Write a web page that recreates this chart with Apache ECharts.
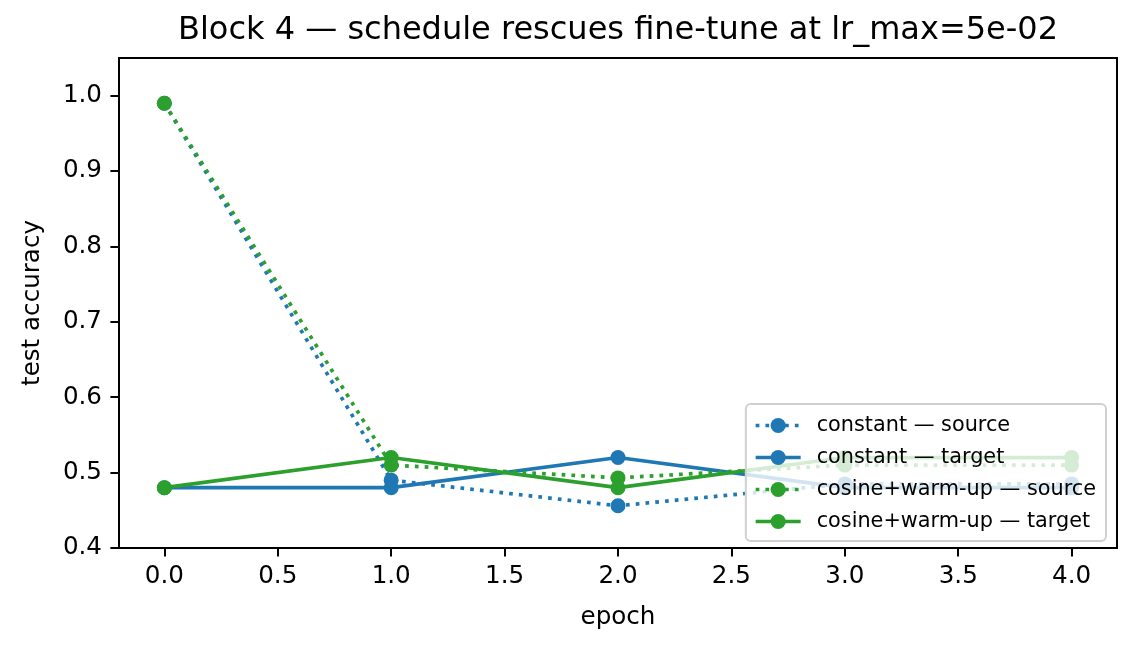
<!DOCTYPE html>
<html>
<head>
<meta charset="utf-8">
<script src="https://cdn.jsdelivr.net/npm/echarts@6/dist/echarts.min.js"></script>
<style>
  html, body { margin: 0; padding: 0; background: #fff; }
  #chart { width: 1135px; height: 651px; }
</style>
</head>
<body>
<div id="chart"></div>
<script>
// data
var epochs = [0, 1, 2, 3, 4];
var constSource = [0.99, 0.49, 0.456, 0.485, 0.485];
var constTarget = [0.48, 0.48, 0.52, 0.48, 0.48];
var cosSource = [0.99, 0.51, 0.493, 0.51, 0.51];
var cosTarget = [0.48, 0.52, 0.48, 0.52, 0.52];

var xTicks = [0, 0.5, 1, 1.5, 2, 2.5, 3, 3.5, 4];
var yTicks = [0.4, 0.5, 0.6, 0.7, 0.8, 0.9, 1.0];

var blue = '#1f77b4';
var green = '#2ca02c';
var font = 'DejaVu Sans';

function pairs(vals) {
    var out = [];
    for (var i = 0; i < epochs.length; i++) {
        out.push([epochs[i], vals[i]]);
    }
    return out;
}

function mkSeries(name, vals, color, dotted) {
    return {
        name: name,
        type: 'line',
        data: pairs(vals),
        symbol: 'circle',
        symbolSize: 15,
        showSymbol: true,
        itemStyle: { color: color },
        lineStyle: {
            color: color,
            width: 3.7,
            type: dotted ? [3.7, 6.1] : 'solid'
        },
        emphasis: { disabled: true },
        animation: false
    };
}

var myChart = echarts.init(document.getElementById('chart'));

var option = {
    backgroundColor: '#fff',
    textStyle: { fontFamily: font },
    title: {
        text: 'Block 4 \u2014 schedule rescues fine-tune at lr_max=5e-02',
        left: 618,
        textAlign: 'center',
        top: 15,
        padding: 0,
        textStyle: { fontFamily: font, fontSize: 32, fontWeight: 'normal', color: '#000' }
    },
    grid: {
        left: 119,
        right: 18,
        top: 58,
        bottom: 103,
        show: true,
        borderColor: '#000',
        borderWidth: 2,
        backgroundColor: 'transparent'
    },
    legend: {
        orient: 'vertical',
        right: 29,
        bottom: 110,
        padding: [11, 10, 9, 8],
        itemWidth: 45,
        itemHeight: 19,
        itemGap: 11,
        backgroundColor: 'rgba(255,255,255,0.8)',
        borderColor: '#d0d0d0',
        borderWidth: 2,
        borderRadius: 5,
        lineStyle: { width: 3.7 },
        textStyle: { fontFamily: font, fontSize: 20.8, color: '#000', padding: [0, 0, 0, 11] },
        data: ['constant \u2014 source', 'constant \u2014 target',
               'cosine+warm-up \u2014 source', 'cosine+warm-up \u2014 target']
    },
    xAxis: {
        type: 'value',
        min: -0.2,
        max: 4.2,
        name: 'epoch',
        nameLocation: 'middle',
        nameGap: 57,
        nameTextStyle: { fontFamily: font, fontSize: 24.6, color: '#000' },
        axisLine: { show: true, onZero: false, lineStyle: { color: '#000', width: 2 } },
        axisTick: { show: true, length: 8.6, lineStyle: { color: '#000', width: 2 }, customValues: xTicks },
        axisLabel: {
            color: '#000', fontSize: 24.6, fontFamily: font, margin: 16,
            customValues: xTicks,
            formatter: function (v) { return v.toFixed(1); }
        },
        splitLine: { show: false }
    },
    yAxis: {
        type: 'value',
        min: 0.4,
        max: 1.05,
        name: 'test accuracy',
        nameLocation: 'middle',
        nameGap: 74,
        nameTextStyle: { fontFamily: font, fontSize: 24.6, color: '#000' },
        axisLine: { show: true, onZero: false, lineStyle: { color: '#000', width: 2 } },
        axisTick: { show: true, length: 8.6, lineStyle: { color: '#000', width: 2 }, customValues: yTicks },
        axisLabel: {
            color: '#000', fontSize: 24.6, fontFamily: font, margin: 17,
            customValues: yTicks,
            formatter: function (v) { return v.toFixed(1); }
        },
        splitLine: { show: false }
    },
    series: [
        mkSeries('constant \u2014 source', constSource, blue, true),
        mkSeries('constant \u2014 target', constTarget, blue, false),
        mkSeries('cosine+warm-up \u2014 source', cosSource, green, true),
        mkSeries('cosine+warm-up \u2014 target', cosTarget, green, false)
    ]
};

if (option)
    myChart.setOption(option);
</script>
</body>
</html>
